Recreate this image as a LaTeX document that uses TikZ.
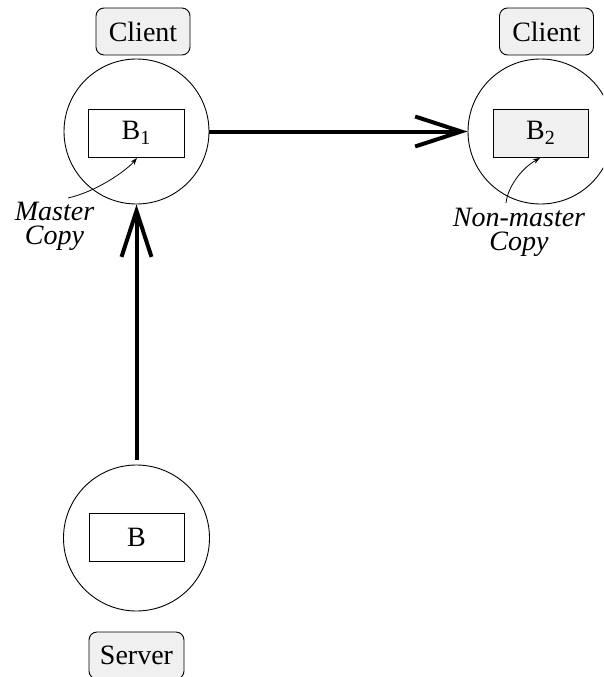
\documentclass[tikz,border=0pt]{standalone}
\usepackage{fontspec}
\setmainfont{Liberation Serif}
\usetikzlibrary{arrows.meta}
\tikzset{
  site/.style={draw, circle, line width=0.9pt, inner sep=0pt, minimum size=145pt},
  blockbox/.style={draw, line width=0.9pt, minimum width=96pt, minimum height=48pt, inner sep=0pt, font=\fontsize{28}{30}\selectfont},
  rolebox/.style={draw, rounded corners=8pt, fill=gray!12, line width=0.9pt, minimum width=94pt, minimum height=47pt, inner sep=0pt, font=\fontsize{28}{30}\selectfont},
  bigarrow/.style={line width=4pt, -{Straight Barb[length=46pt, width=30pt]}},
  note/.style={font=\fontsize{28}{23.5}\selectfont\itshape, inner sep=0pt, anchor=north, align=center},
  pointer/.style={line width=0.8pt, -{Stealth[length=7pt, width=5pt]}}
}
\newcommand{\subidx}[1]{\raisebox{-0.35ex}{\fontsize{20}{22}\selectfont #1}}
\begin{document}
\begin{tikzpicture}[x=1pt, y=-1pt]
\useasboundingbox (0,0) rectangle (603,677);
\clip (0,0) rectangle (603,677);
\fill[white] (0,0) rectangle (603,677);

% circles
\node[site] (c1) at (136.5,131.5) {};
\node[site] (c2) at (540.5,131.5) {};
\node[site, minimum size=146pt] (c3) at (136.5,538) {};

% blocks
\node[blockbox] (b1) at (136,133) {B\subidx{1}};
\node[blockbox, fill=gray!12, minimum width=95pt] (b2) at (540.5,133) {B\subidx{2}};
\node[blockbox, minimum width=95pt] (b) at (136.5,537) {B};

% role labels
\node[rolebox] (cl1) at (143,31.5) {Client};
\node[rolebox] (cl2) at (546.5,31.5) {Client};
\node[rolebox, minimum width=95pt] (srv) at (136.5,655.5) {Server};

% main arrows
\draw[bigarrow] (c1.east) -- (c2.west);
\draw[bigarrow, shorten <=5pt] (c3.north) -- (c1.south);

% notes
\node[note] (mnote) at (54.5,202) {Master\\Copy};
\node[note] (nnote) at (519,208) {Non-master\\Copy};

\coordinate (ms) at (68,198);
\coordinate (ns) at (506,203);
\coordinate (mt) at (137,158);
\coordinate (nt) at (540,158);
\draw[pointer] (ms) .. controls (95,192) and (125,172) .. (mt);
\draw[pointer] (ns) .. controls (508,186) and (522,168) .. (nt);
\end{tikzpicture}
\end{document}
